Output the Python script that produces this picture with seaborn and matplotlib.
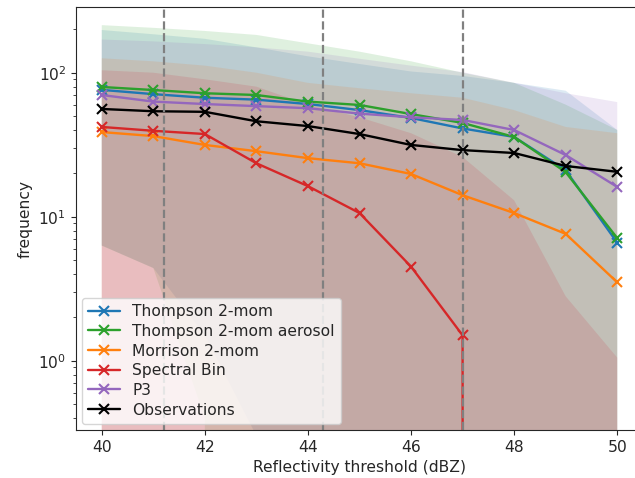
import numpy as np
import pandas as pd
import matplotlib
matplotlib.use("Agg")
import matplotlib.pyplot as plt
import seaborn as sns

thresholds = [40, 41, 42, 43, 44, 45, 46, 47, 48, 49, 50]

labels = ["Thompson 2-mom", "Thompson 2-mom aerosol", "Morrison 2-mom",
          "Spectral Bin", "P3"]

thompson = [76, 71, 67, 65, 60.6, 55, 48.5, 41, 35.8, 21, 6.6]
thompson_aer = [79.6, 75.8, 72, 70, 63, 59.7, 51.6, 44.8, 35.8, 20.4, 7.1]
morrison = [38.7, 36.3, 31.5, 28.5, 25.5, 23.5, 19.8, 14.1, 10.6, 7.6, 3.5]
spectral_bin = [42, 39.5, 37.5, 23.5, 16.3, 10.6, 4.5, 1.5, 0, 0, 0]
p3 = [70, 63, 60.6, 58.6, 56.7, 52, 49, 47, 40, 26.8, 16.1]
observations = [56, 54, 53.5, 46, 42.6, 37.5, 31.5, 29, 27.7, 22.5, 20.5]

thompson_hi = [198, 185, 172, 150, 130, 115, 102, 95, 85, 75, 40]
thompson_aer_hi = [214, 205, 195, 183, 160, 140, 120, 100, 85, 60, 40]
morrison_hi = [126, 120, 112, 100, 85, 78, 72, 67, 55, 42, 38]
spectral_bin_hi = [104, 100, 90, 80, 60, 49, 38, 26, 13, 2.8, 1.05]
p3_hi = [170, 165, 158, 150, 140, 125, 112, 101, 85, 72, 62.5]

thompson_lo = [6.3, 4.4, 1.5, 0.3, 0, 0, 0, 0, 0, 0, 0]
thompson_aer_lo = [6.3, 4.4, 0.4, 0, 0, 0, 0, 0, 0, 0, 0]
morrison_lo = [0, 0, 0, 0, 0, 0, 0, 0, 0, 0, 0]
spectral_bin_lo = [0, 0, 0, 0, 0, 0, 0, 0, 0, 0, 0]
p3_lo = [0, 0, 0, 0, 0, 0, 0, 0, 0, 0, 0]

vlines = [41.2, 44.3, 47.0]

series = [thompson, thompson_aer, morrison, spectral_bin, p3]
highs = [thompson_hi, thompson_aer_hi, morrison_hi, spectral_bin_hi, p3_hi]
lows = [thompson_lo, thompson_aer_lo, morrison_lo, spectral_bin_lo, p3_lo]
colors = ["#1f77b4", "#2ca02c", "#ff7f0e", "#d62728", "#9467bd"]

sns.set_style("ticks")
plt.rcParams["font.family"] = ["DejaVu Sans"]
plt.rcParams["font.size"] = 11.2

fig = plt.figure(figsize=(6.35, 4.78), dpi=100)
ax = fig.add_axes([76 / 635, 48 / 478, 567 / 635, 423 / 478])
ax.set_yscale("log")

for lab, vals, hi, lo, col in zip(labels, series, highs, lows, colors):
    ax.fill_between(thresholds, lo, hi, color=col, alpha=0.15, linewidth=0)
    ax.plot(thresholds, vals, marker="x", color=col, label=lab,
            linewidth=1.7, markersize=7.5, markeredgewidth=1.5)

ax.plot(thresholds, observations, marker="x", color="black",
        label="Observations", linewidth=1.7, markersize=7.5, markeredgewidth=1.5)

for v in vlines:
    ax.axvline(v, color="gray", linestyle="--", linewidth=1.6)

ax.set_xlim(39.5, 50.5)
ax.set_ylim(0.33, 286)
ax.set_xticks([40, 42, 44, 46, 48, 50])
ax.tick_params(labelsize=11.2)
ax.set_xlabel("Reflectivity threshold (dBZ)")
ax.set_ylabel("frequency")
ax.legend(loc="lower left", fontsize=11.2, labelspacing=0.3,
          borderaxespad=0.4)

fig.savefig("out.png", dpi=100)
